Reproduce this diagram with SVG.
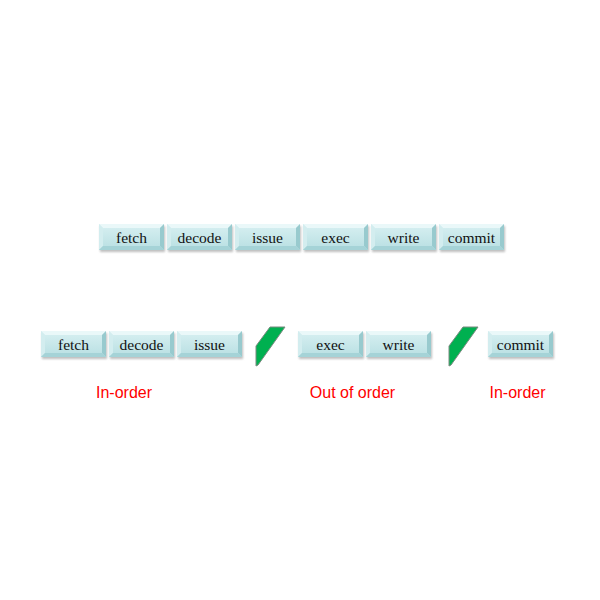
<svg xmlns="http://www.w3.org/2000/svg" xmlns:xlink="http://www.w3.org/1999/xlink" width="600" height="600" viewBox="0 0 600 600">
  <defs>
    <linearGradient id="face" x1="0" y1="0" x2="0" y2="1">
      <stop offset="0" stop-color="#d8f0f2"/>
      <stop offset="1" stop-color="#b8dfe2"/>
    </linearGradient>
    <filter id="blur" x="-20%" y="-50%" width="140%" height="200%">
      <feGaussianBlur stdDeviation="1.2"/>
    </filter>
    <g id="box">
      <rect x="1" y="2" width="65" height="26" fill="#8a8a8a" opacity="0.55" filter="url(#blur)"/>
      <rect x="0" y="0" width="65" height="26" fill="url(#face)"/>
      <polygon points="0,0 65,0 61,4 4,4" fill="#eaf8f9"/>
      <polygon points="0,0 4,4 4,22 0,26" fill="#d3edef"/>
      <polygon points="65,0 65,26 61,22 61,4" fill="#98cace"/>
      <polygon points="0,26 65,26 61,22 4,22" fill="#a5d3d7"/>
    </g>
  </defs>
  <style>
    .lbl { font-family: "Liberation Serif", "Times New Roman", serif; font-size: 15.5px; fill: #111111; text-anchor: middle; }
    .red { font-family: "Liberation Sans", Arial, sans-serif; font-size: 16px; fill: #ff0000; text-anchor: middle; }
    .bar { fill: #00b050; stroke: #7a8a80; stroke-width: 1; stroke-linejoin: round; }
  </style>
  <rect width="600" height="600" fill="#ffffff"/>

  <!-- top row -->
  <g id="t-fetch"><use xlink:href="#box" x="99" y="224"/><text class="lbl" x="131.5" y="242.5">fetch</text></g>
  <g id="t-decode"><use xlink:href="#box" x="167" y="224"/><text class="lbl" x="199.5" y="242.5">decode</text></g>
  <g id="t-issue"><use xlink:href="#box" x="235" y="224"/><text class="lbl" x="267.5" y="242.5">issue</text></g>
  <g id="t-exec"><use xlink:href="#box" x="303" y="224"/><text class="lbl" x="335.5" y="242.5">exec</text></g>
  <g id="t-write"><use xlink:href="#box" x="371" y="224"/><text class="lbl" x="403.5" y="242.5">write</text></g>
  <g id="t-commit"><use xlink:href="#box" x="439" y="224"/><text class="lbl" x="471.5" y="242.5">commit</text></g>

  <!-- bottom row -->
  <g id="b-fetch"><use xlink:href="#box" x="41" y="331"/><text class="lbl" x="73.5" y="349.5">fetch</text></g>
  <g id="b-decode"><use xlink:href="#box" x="109" y="331"/><text class="lbl" x="141.5" y="349.5">decode</text></g>
  <g id="b-issue"><use xlink:href="#box" x="177" y="331"/><text class="lbl" x="209.5" y="349.5">issue</text></g>
  <g id="sep1"><polygon class="bar" points="270,327 285,327 258,365 256,366 256,346"/></g>
  <g id="b-exec"><use xlink:href="#box" x="298" y="331"/><text class="lbl" x="330.5" y="349.5">exec</text></g>
  <g id="b-write"><use xlink:href="#box" x="366" y="331"/><text class="lbl" x="398.5" y="349.5">write</text></g>
  <g id="sep2"><polygon class="bar" points="463,327 478,327 451,365 449,366 449,346"/></g>
  <g id="b-commit"><use xlink:href="#box" x="488" y="331"/><text class="lbl" x="520.5" y="349.5">commit</text></g>

  <!-- labels -->
  <g id="labels">
    <text class="red" x="124" y="398">In-order</text>
    <text class="red" x="352.5" y="398">Out of order</text>
    <text class="red" x="517.5" y="398">In-order</text>
  </g>
</svg>
